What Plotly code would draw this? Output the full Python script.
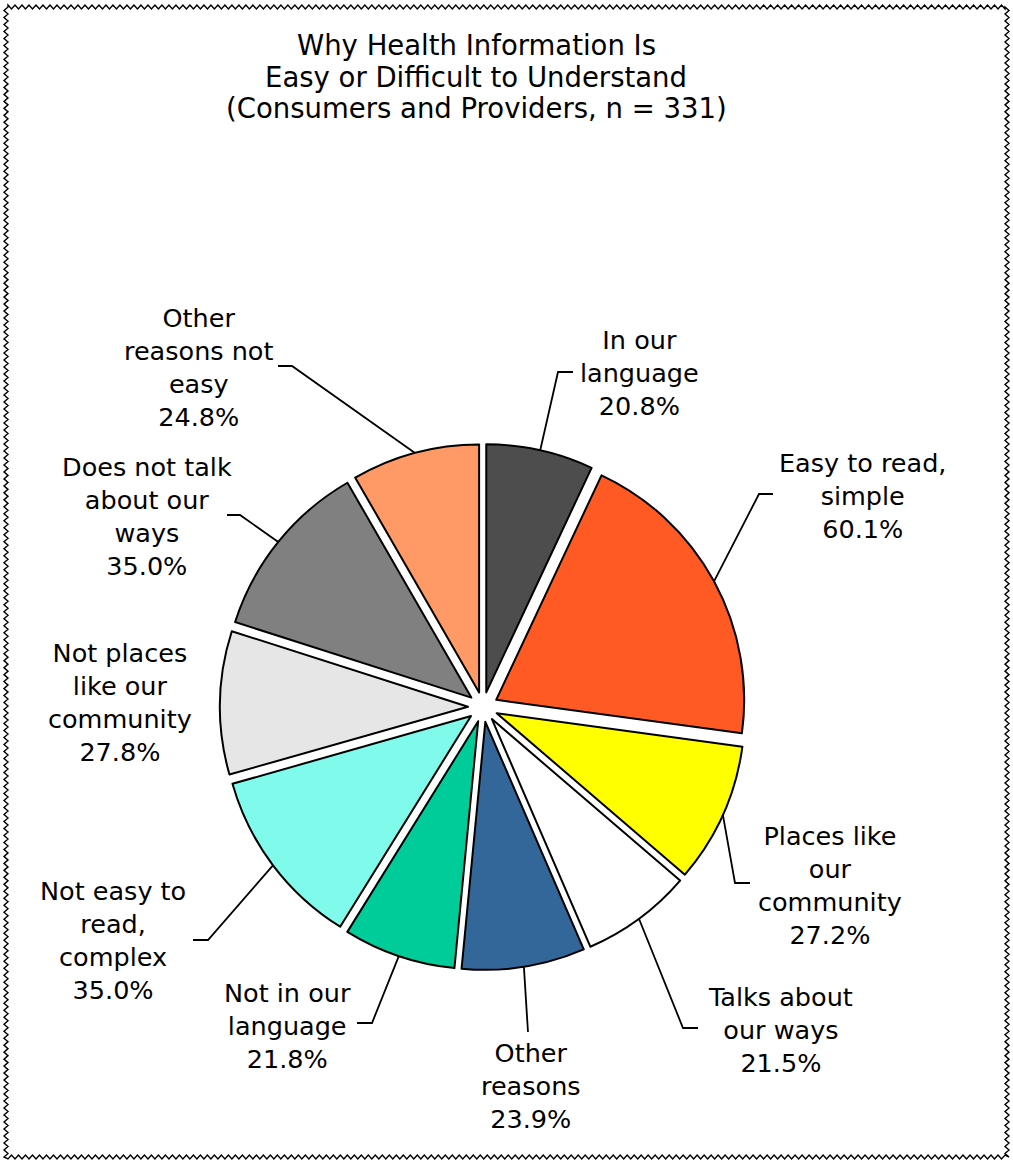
import math
import plotly.graph_objects as go

# ---- data -------------------------------------------------------------
CATEGORIES = [
    "In our language",
    "Easy to read, simple",
    "Places like our community",
    "Talks about our ways",
    "Other reasons",
    "Not in our language",
    "Not easy to read, complex",
    "Not places like our community",
    "Does not talk about our ways",
    "Other reasons not easy",
]
VALUES = [20.8, 60.1, 27.2, 21.5, 23.9, 21.8, 35.0, 27.8, 35.0, 24.8]
LABEL_TEXT = [
    "In our<br>language",
    "Easy to read,<br>simple",
    "Places like<br>our<br>community",
    "Talks about<br>our ways",
    "Other<br>reasons",
    "Not in our<br>language",
    "Not easy to<br>read,<br>complex",
    "Not places<br>like our<br>community",
    "Does not talk<br>about our<br>ways",
    "Other<br>reasons not<br>easy",
]
TITLE_LINES = [
    "Why Health Information Is",
    "Easy or Difficult to Understand",
    "(Consumers and Providers, n = 331)",
]

# ---- style / layout ---------------------------------------------------
COLORS = ["#4D4D4D", "#FF5A24", "#FFFF00", "#FFFFFF", "#336699",
          "#00CC99", "#80FAEB", "#E6E6E6", "#808080", "#FF9966"]

W, H = 1013, 1162
FONT = "Verdana, DejaVu Sans, sans-serif"
CX, CY, R = 483.0, 707.0, 248.0      # pie centre and radius (px)
PULL = 0.0605

# label centres (px)
LABEL_POS = [(639, 373), (862, 496), (830, 885), (780, 1030), (531, 1086),
             (287, 1026), (113, 941), (120, 702), (147, 517), (198, 367)]
# leader line elbow (px) and end of the short horizontal tail (px)
LEADER = [((558, 372), 573), ((759, 494), 773), ((735, 883), 750),
          ((683, 1028), 698), ((528, 1032), None), ((372, 1023), 357),
          ((208, 940), 193), None, ((240, 515), 227), ((292, 366), 278)]
TITLE_X, TITLE_Y = 476, [45, 76.5, 108]


def px(x):
    return x / W


def py(y):
    return 1 - y / H


half = R * (1 + PULL)
fig = go.Figure(go.Pie(
    labels=CATEGORIES,
    values=VALUES,
    sort=False,
    direction="clockwise",
    rotation=0,
    pull=[PULL] * len(VALUES),
    textinfo="none",
    marker=dict(colors=COLORS, line=dict(color="black", width=2)),
    domain=dict(x=[px(CX - half), px(CX + half)],
                y=[py(CY + half), py(CY - half)]),
    showlegend=False,
))

shapes = []
annotations = []
total = sum(VALUES)
cum = 0.0
for v, txt, (lx, ly), lead in zip(VALUES, LABEL_TEXT, LABEL_POS, LEADER):
    mid = math.radians((cum + v / 2) / total * 360)
    cum += v
    s, c = math.sin(mid), math.cos(mid)
    pcx, pcy = CX + PULL * R * s, CY - PULL * R * c
    sx, sy = pcx + R * s, pcy - R * c
    annotations.append(dict(
        x=px(lx), y=py(ly), xref="paper", yref="paper",
        text=f"{txt}<br>{v:.1f}%", showarrow=False,
        xanchor="center", yanchor="middle", align="center",
        font=dict(family=FONT, size=25.5, color="black"),
    ))
    if lead is None:
        continue
    (ex, ey), hx = lead
    path = f"M {px(sx)},{py(sy)} L {px(ex)},{py(ey)}"
    if hx is not None:
        path += f" L {px(hx)},{py(ey)}"
    shapes.append(dict(type="path", path=path, xref="paper", yref="paper",
                       line=dict(color="black", width=1.8)))

for line, ty in zip(TITLE_LINES, TITLE_Y):
    annotations.append(dict(
        x=px(TITLE_X), y=py(ty), xref="paper", yref="paper", text=line,
        showarrow=False, xanchor="center", yanchor="middle",
        font=dict(family=FONT, size=27.5, color="black"),
    ))


# zig-zag frame around the chart area
def zigzag(x0, y0, x1, y1, amp=2.0, step=3.5):
    n = int(round(max(abs(x1 - x0), abs(y1 - y0)) / step))
    pts = []
    for i in range(n + 1):
        t = i / n
        x = x0 + (x1 - x0) * t
        y = y0 + (y1 - y0) * t
        off = amp if i % 2 else -amp
        if y0 == y1:
            y += off
        else:
            x += off
        pts.append((x, y))
    return pts


pts = (zigzag(8, 7, 1005, 7) + zigzag(1007, 7, 1007, 1157)
       + zigzag(1005, 1157, 8, 1157) + zigzag(6, 1157, 6, 7))
frame = "M " + " L ".join(f"{px(x)},{py(y)}" for x, y in pts) + " Z"
shapes.append(dict(type="path", path=frame, xref="paper", yref="paper",
                   line=dict(color="black", width=1.4)))

fig.update_layout(
    width=W, height=H,
    margin=dict(l=0, r=0, t=0, b=0),
    paper_bgcolor="white", plot_bgcolor="white",
    shapes=shapes, annotations=annotations,
    font=dict(family=FONT),
)

fig.write_html("out.html")
